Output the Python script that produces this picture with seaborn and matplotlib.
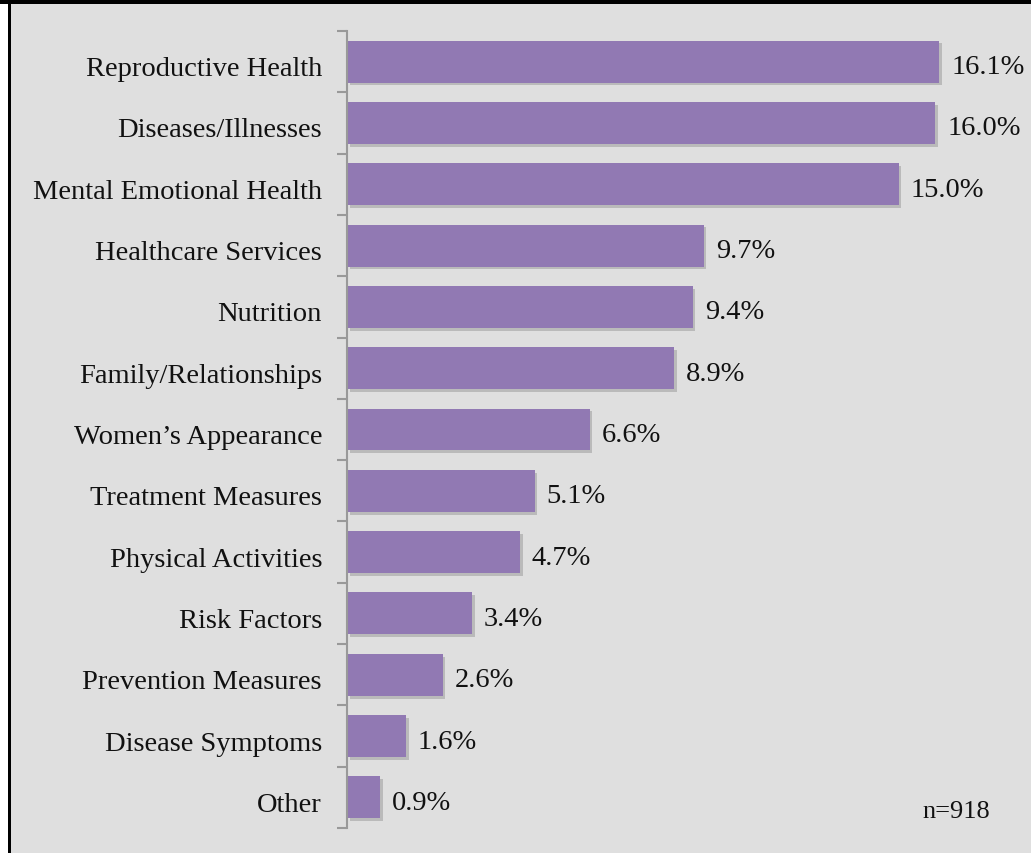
import matplotlib
matplotlib.use("Agg")
import matplotlib.pyplot as plt
import matplotlib.patheffects as pe
import matplotlib.transforms as mtransforms
from matplotlib.patches import Rectangle
import seaborn as sns
import pandas as pd

categories = ["Reproductive Health", "Diseases/Illnesses", "Mental Emotional Health",
              "Healthcare Services", "Nutrition", "Family/Relationships",
              "Women\u2019s Appearance", "Treatment Measures", "Physical Activities",
              "Risk Factors", "Prevention Measures", "Disease Symptoms", "Other"]
percent = [16.1, 16.0, 15.0, 9.7, 9.4, 8.9, 6.6, 5.1, 4.7, 3.4, 2.6, 1.6, 0.9]
n_label = "n=918"

df = pd.DataFrame({"topic": categories, "pct": percent})

sns.set_style("white")
plt.rcParams["font.family"] = ["Liberation Serif", "DejaVu Serif"]

bg = "#dfdfdf"
bar_color = "#9179b3"

W, H = 1031, 854
fig = plt.figure(figsize=(W / 100, H / 100), dpi=100, facecolor=bg)
ax = fig.add_axes([347 / W, 1 - 829 / H, (W - 347) / W, (829 - 32) / H])
ax.set_facecolor(bg)

sns.barplot(data=df, x="pct", y="topic", orient="h", color=bar_color,
            saturation=1, width=0.685, linewidth=0, edgecolor="none", ax=ax)

# soft drop shadow under the bars
for p in ax.patches:
    p.set_path_effects([pe.SimplePatchShadow(offset=(2, -2), shadow_rgbFace="#666666", alpha=0.3),
                        pe.Normal()])

for i, v in enumerate(percent):
    ax.annotate(f"{v:.1f}%", xy=(v, i), xytext=(12, -5), textcoords="offset pixels",
                va="center", ha="left", fontsize=20.5, color="#111111")

ax.set_xlim(0, 18.6)
ax.set_ylim(len(categories) - 0.5, -0.5)
ax.set_xlabel("")
ax.set_ylabel("")
ax.set_xticks([])

ax.set_yticks(range(len(categories)))
ax.set_yticklabels(categories, fontsize=20.5, color="#111111")
ax.set_yticks([i - 0.5 for i in range(len(categories) + 1)], minor=True)
ax.tick_params(axis="y", which="major", length=0, pad=18)
ax.tick_params(axis="y", which="minor", length=7, width=1.5, color="#999999", left=True)

# nudge category labels down a little
offset = mtransforms.ScaledTranslation(0, -4 / 100, fig.dpi_scale_trans)
for lab in ax.get_yticklabels():
    lab.set_transform(lab.get_transform() + offset)

for s in ["top", "right", "bottom"]:
    ax.spines[s].set_visible(False)
ax.spines["left"].set_color("#999999")
ax.spines["left"].set_linewidth(1.5)

ax.text(0.94, 0.021, n_label, transform=ax.transAxes, ha="right", va="center",
        fontsize=19, color="#111111")

# frame strips along the left and top edges
fig.patches.append(Rectangle((0, 0), 8 / W, 1, transform=fig.transFigure,
                             facecolor="white", edgecolor="none"))
fig.patches.append(Rectangle((8 / W, 0), 3 / W, 1, transform=fig.transFigure,
                             facecolor="black", edgecolor="none"))
fig.patches.append(Rectangle((0, 1 - 5 / H), 1, 5 / H, transform=fig.transFigure,
                             facecolor="black", edgecolor="none"))

fig.savefig("out.png", dpi=100, facecolor=bg)
